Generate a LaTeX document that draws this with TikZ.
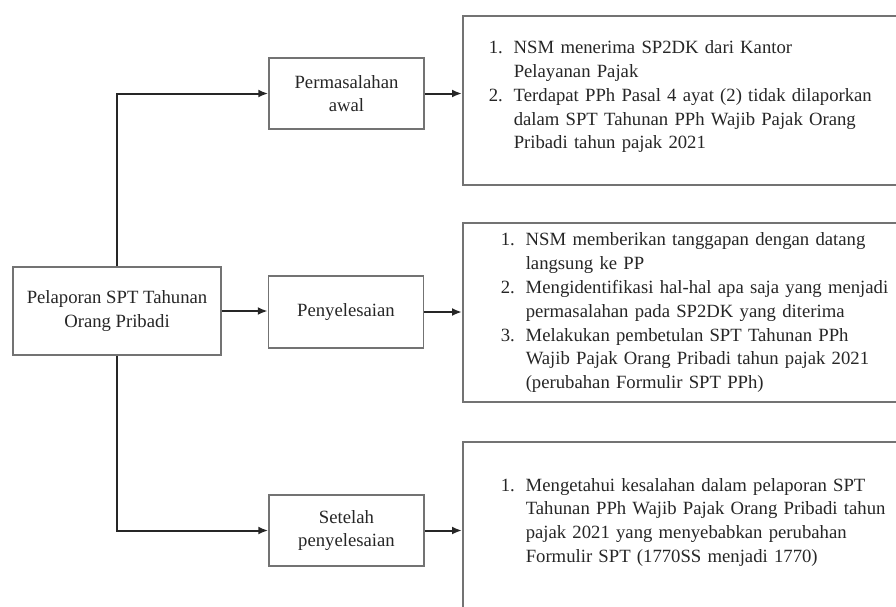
\documentclass[tikz,border=0pt]{standalone}
\usepackage{fontspec}
\setmainfont{Liberation Serif}
\usetikzlibrary{arrows.meta}

\tikzset{
	every node/.style={font=\fontsize{18.7}{23.8}\selectfont, text=black!85},
	smallbox/.style={draw=black!55, line width=1.5pt, align=center, minimum width=155pt, minimum height=71pt, inner sep=2pt},
	bigbox/.style={draw=black!55, line width=1.5pt, anchor=west, align=left},
	flow/.style={-{Latex[length=10pt,width=8pt]}, line width=2pt, draw=black!85},
}

\begin{document}
\begin{tikzpicture}[x=1pt, y=-1pt]
		\useasboundingbox (0,0) rectangle (896,606);
		\clip (0,0) rectangle (896,606);
		
		\node[smallbox, minimum width=208pt, minimum height=88pt] (lapor) at (117,311) {Pelaporan SPT Tahunan\\Orang Pribadi};
		\node[smallbox] (awal) at (346.5,93.5) {Permasalahan\\awal};
		\node[smallbox, minimum height=72pt] (selesai) at (346,312) {Penyelesaian};
		\node[smallbox] (setelah) at (346.5,530.5) {Setelah\\penyelesaian};
		
		\node[bigbox, inner xsep=26pt, text width=446pt, minimum height=169pt] (poin1) at (462,100.5) {%
			\begin{tabular}{@{}p{25pt}@{}l@{}}
				1. & NSM menerima SP2DK dari Kantor\\
				   & Pelayanan Pajak\\
				2. & Terdapat PPh Pasal 4 ayat (2) tidak dilaporkan\\
				   & dalam SPT Tahunan PPh Wajib Pajak Orang\\
				   & Pribadi tahun pajak 2021\\[8pt]
			\end{tabular}};
		\node[bigbox, inner xsep=38pt, text width=422pt, minimum height=179pt] (poin2) at (462,312.5) {%
			\begin{tabular}{@{}p{25pt}@{}l@{}}
				1. & NSM memberikan tanggapan dengan datang\\
				   & langsung ke PP\\
				2. & Mengidentifikasi hal-hal apa saja yang menjadi\\
				   & permasalahan pada SP2DK yang diterima\\
				3. & Melakukan pembetulan SPT Tahunan PPh\\
				   & Wajib Pajak Orang Pribadi tahun pajak 2021\\
				   & (perubahan Formulir SPT PPh)
			\end{tabular}};
		\node[bigbox, inner xsep=38pt, text width=422pt, minimum height=178pt] (poin3) at (462,531) {%
			\begin{tabular}{@{}p{25pt}@{}l@{}}
				1. & Mengetahui kesalahan dalam pelaporan SPT\\
				   & Tahunan PPh Wajib Pajak Orang Pribadi tahun\\
				   & pajak 2021 yang menyebabkan perubahan\\
				   & Formulir SPT (1770SS menjadi 1770)\\[18pt]
			\end{tabular}};
		
		\draw[flow] (lapor.north) |- (awal.west);
		\draw[flow] (lapor.east) -- (lapor.east -| selesai.west);
		\draw[flow] (lapor.south) |- (setelah.west);
		\draw[flow] (awal.east) -- (awal.east -| poin1.west);
		\draw[flow] (selesai.east) -- (selesai.east -| poin2.west);
		\draw[flow] (setelah.east) -- (setelah.east -| poin3.west);
\end{tikzpicture}
\end{document}
